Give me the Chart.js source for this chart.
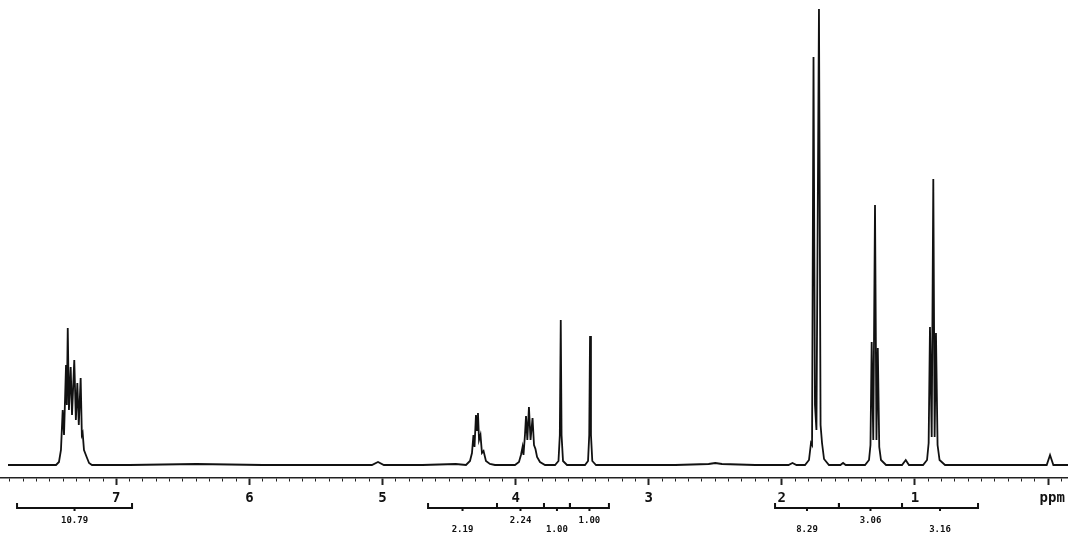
<!DOCTYPE html>
<html lang="en">
<head>
    <meta charset="UTF-8">
    <title>1H NMR spectrum</title>
    <script src="https://cdn.jsdelivr.net/npm/chart.js"></script>
    <style>
        body { margin: 0; background: #ffffff; }
        canvas { display: block; }
    </style>
</head>
<body>
    <canvas id="nmrChart" width="1068" height="536"></canvas>

    <script>
        // spectrum trace: chemical shift (ppm) and peak height
        const spectrumPpm = [
            7.814, 7.60, 7.453, 7.431, 7.416, 7.403, 7.393, 7.378, 7.372, 7.365, 7.356, 7.343, 7.333, 7.316, 7.304, 7.293, 7.282, 7.268, 7.259, 7.253, 7.243, 7.223, 7.205, 7.183,
            6.90, 6.40, 5.90, 5.40, 5.08, 5.034, 4.99, 4.70, 4.45,
            4.373, 4.343, 4.328, 4.317, 4.309, 4.298, 4.290, 4.283, 4.275, 4.264, 4.253, 4.241, 4.223, 4.193, 4.155,
            4.08, 4.005, 3.975, 3.960, 3.948, 3.941, 3.930, 3.922, 3.912, 3.900, 3.888, 3.873, 3.862, 3.851, 3.839, 3.817, 3.779,
            3.704, 3.678, 3.668, 3.661, 3.655, 3.644, 3.614,
            3.479, 3.456, 3.447, 3.441, 3.434, 3.424, 3.396,
            3.10, 2.80, 2.55, 2.50, 2.45, 2.20, 1.95, 1.92, 1.89,
            1.826, 1.796, 1.781, 1.773, 1.762, 1.751, 1.740, 1.721, 1.709, 1.698, 1.683, 1.646,
            1.56, 1.54, 1.52,
            1.375, 1.345, 1.334, 1.325, 1.313, 1.300, 1.289, 1.279, 1.268, 1.255, 1.217,
            1.097, 1.069, 1.045,
            0.939, 0.909, 0.897, 0.887, 0.874, 0.862, 0.852, 0.842, 0.830, 0.815, 0.774,
            0.50, 0.20, 0.01, -0.015, -0.04, -0.15
        ];
        const spectrumIntensity = [
            0, 0, 0, 3, 15, 55, 30, 100, 60, 137, 55, 98, 50, 105, 45, 82, 40, 87, 30, 32, 15, 8, 2, 0,
            0, 1, 0, 0, 0, 3, 0, 0, 1,
            0, 4, 12, 30, 18, 50, 35, 52, 25, 30, 12, 14, 4, 1, 0,
            0, 0, 3, 10, 18, 10, 30, 49, 25, 58, 25, 47, 20, 16, 8, 3, 0,
            0, 4, 30, 145, 30, 4, 0,
            0, 4, 30, 129, 30, 4, 0,
            0, 0, 1, 2, 1, 0, 0, 2, 0,
            0, 5, 22, 20, 408, 60, 35, 456, 40, 22, 6, 0,
            0, 2, 0,
            0, 5, 20, 123, 25, 260, 25, 117, 18, 5, 0,
            0, 5, 0,
            0, 5, 22, 138, 28, 286, 28, 132, 20, 5, 0,
            0, 0, 0, 10, 0, 0
        ];

        // axis labels
        const tickPpm = [7, 6, 5, 4, 3, 2, 1, 0];
        const tickText = ['7', '6', '5', '4', '3', '2', '1', ' ppm'];

        // integral regions (ppm) and their values
        const integralFrom = [7.746, 4.658, 4.140, 3.787, 3.592, 2.051, 1.571, 1.097];
        const integralTo = [6.882, 4.140, 3.787, 3.592, 3.299, 1.571, 1.097, 0.526];
        const integralText = ['10.79', '2.19', '2.24', '1.00', '1.00', '8.29', '3.06', '3.16'];

        const isMajor = v => tickPpm.some(t => Math.abs(t - v) < 1e-6);

        // integral brackets under the axis
        const integralPlugin = {
            id: 'integrals',
            afterDraw(chart) {
                const ctx = chart.ctx;
                const xs = chart.scales.x;
                const barY = 508;
                ctx.save();
                ctx.strokeStyle = '#111';
                ctx.fillStyle = '#111';
                ctx.lineWidth = 2;
                ctx.font = 'bold 9px "DejaVu Sans Mono", monospace';
                ctx.textAlign = 'center';
                ctx.textBaseline = 'middle';
                for (let i = 0; i < integralFrom.length; i++) {
                    const a = xs.getPixelForValue(integralFrom[i]);
                    const b = xs.getPixelForValue(integralTo[i]);
                    const m = (a + b) / 2;
                    ctx.beginPath();
                    ctx.moveTo(a, barY - 5);
                    ctx.lineTo(a, barY);
                    ctx.lineTo(b, barY);
                    ctx.lineTo(b, barY - 5);
                    ctx.moveTo(m, barY);
                    ctx.lineTo(m, barY + 3);
                    ctx.stroke();
                    const ty = i % 2 === 0 ? 521 : 530;
                    ctx.fillText(integralText[i], m, ty);
                }
                ctx.restore();
            }
        };

        const ctx = document.getElementById('nmrChart').getContext('2d');
        const nmrChart = new Chart(ctx, {
            type: 'line',
            data: {
                datasets: [{
                    data: spectrumPpm.map((p, i) => ({ x: p, y: spectrumIntensity[i] })),
                    borderColor: '#111',
                    borderWidth: 1.8,
                    pointRadius: 0,
                    tension: 0,
                    fill: false,
                }]
            },
            options: {
                responsive: false,
                animation: false,
                layout: { padding: 0 },
                plugins: {
                    legend: { display: false },
                    tooltip: { enabled: false }
                },
                scales: {
                    x: {
                        type: 'linear',
                        reverse: true,
                        min: -0.15,
                        max: 7.874,
                        afterFit: s => { s.height = 58; },
                        border: { display: true, color: '#222', width: 1.5, dash: [5, 2] },
                        grid: {
                            drawOnChartArea: false,
                            tickLength: 7,
                            tickColor: '#222',
                            tickWidth: c => isMajor(c.tick.value) ? 2 : 1,
                            tickBorderDash: c => isMajor(c.tick.value) ? [] : [3, 20],
                        },
                        ticks: {
                            stepSize: 0.1,
                            includeBounds: false,
                            autoSkip: false,
                            maxRotation: 0,
                            padding: 5,
                            color: '#111',
                            font: { family: '"DejaVu Sans Mono", monospace', size: 14, weight: 'bold' },
                            callback: v => {
                                const k = tickPpm.findIndex(t => Math.abs(t - v) < 1e-6);
                                return k >= 0 ? tickText[k] : '';
                            }
                        }
                    },
                    y: {
                        display: false,
                        min: -13,
                        max: 465
                    }
                }
            },
            plugins: [integralPlugin]
        });
    </script>
</body>
</html>
